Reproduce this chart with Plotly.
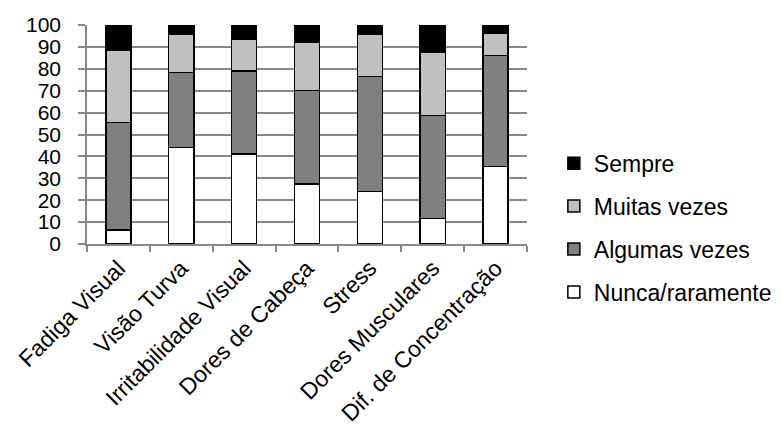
import plotly.graph_objects as go

categories = ["Fadiga Visual", "Visão Turva", "Irritabilidade Visual", "Dores de Cabeça",
              "Stress", "Dores Musculares", "Dif. de Concentração"]
nunca = [6.4, 44.1, 41.0, 27.3, 23.9, 11.7, 35.3]
algumas = [49.0, 34.1, 38.0, 42.7, 52.5, 46.9, 50.7]
muitas = [32.9, 17.4, 14.7, 22.2, 19.2, 28.8, 10.3]
sempre = [11.7, 4.4, 6.3, 7.8, 4.4, 12.6, 3.7]
series_names = ["Nunca/raramente", "Algumas vezes", "Muitas vezes", "Sempre"]
series_values = [nunca, algumas, muitas, sempre]
colors = ["#ffffff", "#808080", "#c0c0c0", "#000000"]
y_ticks = list(range(0, 101, 10))

fig = go.Figure()
n = len(series_names)
for i, (name, vals, col) in enumerate(zip(series_names, series_values, colors)):
    fig.add_trace(go.Bar(x=categories, y=vals, name=name, legendgroup=name, legendrank=n - i,
                         marker=dict(color=col, line=dict(color="#000000", width=1.5))))

font = "Liberation Sans, Arial, sans-serif"
# page body has an 8px default margin; plot area offset accordingly
fig.update_layout(
    barmode="stack", bargap=0.6,
    width=781, height=422,
    margin=dict(l=79, r=254, t=17, b=186),
    plot_bgcolor="white", paper_bgcolor="white",
    font=dict(family=font, size=22, color="black"),
    showlegend=True,
    legend=dict(x=1.061, y=0.467, xanchor="left", yanchor="top", traceorder="grouped",
                tracegroupgap=10, font=dict(size=23, family=font), bgcolor="rgba(0,0,0,0)"),
)
fig.update_yaxes(range=[0, 100], tickvals=y_ticks, showgrid=True, gridcolor="#888888", gridwidth=1.5,
                 showline=True, linecolor="#888888", linewidth=1.5, ticks="outside", ticklen=7,
                 tickcolor="#888888", tickwidth=1.5, zeroline=False, tickfont=dict(size=21),
                 ticklabelstandoff=13, automargin=False)
fig.update_xaxes(showgrid=False, showline=True, linecolor="#888888", linewidth=1.5,
                 ticks="outside", tickson="boundaries", ticklen=6, tickcolor="#888888", tickwidth=1.5,
                 tickangle=-45, tickfont=dict(size=23), automargin=False)
fig.write_html("out.html")
